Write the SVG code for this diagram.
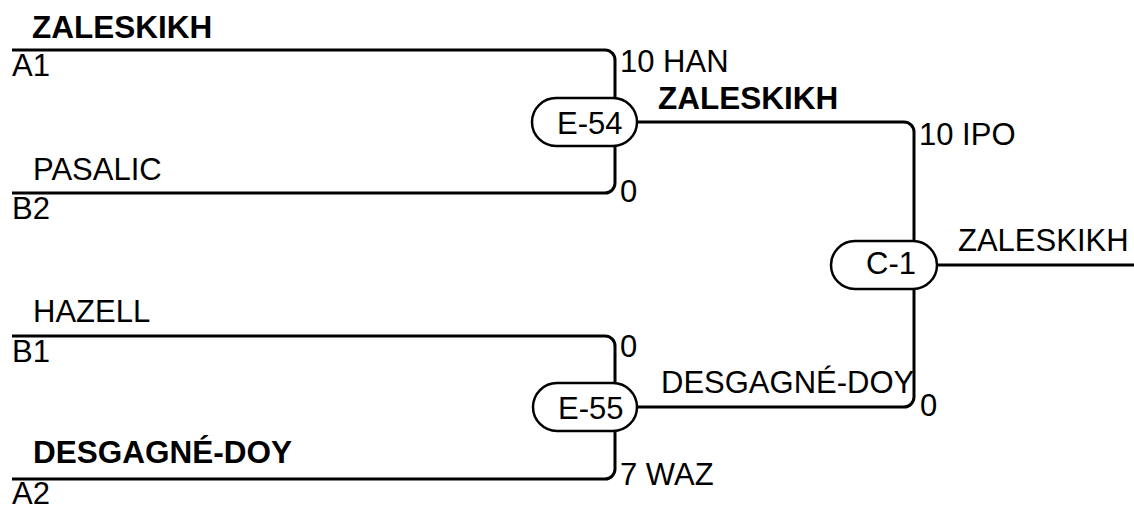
<svg xmlns="http://www.w3.org/2000/svg" width="1134" height="508" viewBox="0 0 1134 508">
<style>
text{font-family:"Liberation Sans",Arial,sans-serif;font-size:31px;fill:#000}
.b{font-weight:bold;font-size:31.5px}
.c{fill:none;stroke:#000;stroke-width:3}
.n{fill:#fff;stroke:#000;stroke-width:2.5}
</style>
<rect width="1134" height="508" fill="#fff"/>
<g id="connectors">
<path class="c" d="M12,50 H605 A10,10 0 0 1 615,60 V122"/>
<path class="c" d="M12,193 H605 A10,10 0 0 0 615,183 V122"/>
<path class="c" d="M584,122 H904 A10,10 0 0 1 914,132 V265"/>
<path class="c" d="M12,336 H605 A10,10 0 0 1 615,346 V407"/>
<path class="c" d="M12,479 H605 A10,10 0 0 0 615,469 V407"/>
<path class="c" d="M584,407 H904 A10,10 0 0 0 914,397 V265"/>
<path class="c" d="M884,265 H1134"/>
</g>
<g id="labels">
<text class="b" x="32" y="38">ZALESKIKH</text>
<text x="12" y="76">A1</text>
<text x="33" y="180">PASALIC</text>
<text x="12" y="219">B2</text>
<text x="33" y="322">HAZELL</text>
<text x="12" y="362">B1</text>
<text class="b" x="33" y="463">DESGAGNÉ-DOY</text>
<text x="12" y="504">A2</text>
<text x="620" y="72">10 HAN</text>
<text x="620" y="202">0</text>
<text class="b" x="658" y="109">ZALESKIKH</text>
<text x="919" y="145">10 IPO</text>
<text x="620" y="357">0</text>
<text x="620" y="485">7 WAZ</text>
<text x="661" y="393">DESGAGNÉ-DOY</text>
<text x="920" y="416">0</text>
<text x="958" y="251">ZALESKIKH</text>
</g>
<g id="E-54">
<rect class="n" x="532" y="98" width="105" height="48" rx="24"/>
<text x="557" y="134">E-54</text>
</g>
<g id="E-55">
<rect class="n" x="533" y="383" width="104" height="48" rx="24"/>
<text x="558" y="419">E-55</text>
</g>
<g id="C-1">
<rect class="n" x="831" y="241" width="106" height="48" rx="24"/>
<text x="866" y="274">C-1</text>
</g>
</svg>
